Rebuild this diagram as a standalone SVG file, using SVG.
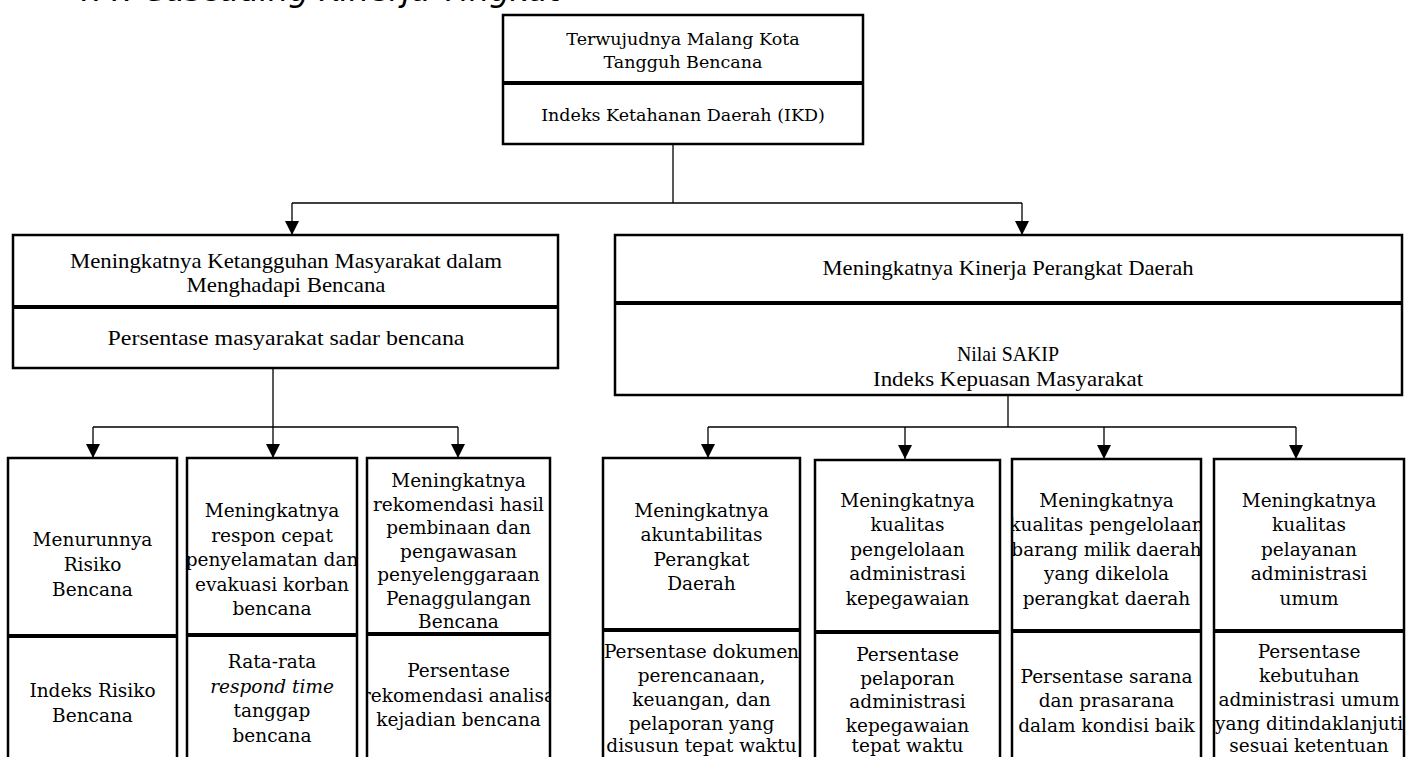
<svg xmlns="http://www.w3.org/2000/svg" width="1417" height="757" viewBox="0 0 1417 757">
<style>
.box{fill:#fff;stroke:#000;stroke-width:2.5}
.dv{stroke:#000;stroke-width:4}
.t{font-family:"DejaVu Serif","Liberation Serif",serif;font-size:17.5px;text-anchor:middle;fill:#000}
.b{font-family:"DejaVu Serif","Liberation Serif",serif;font-size:18.5px;text-anchor:middle;fill:#000}
.m{font-family:"Liberation Serif",serif;font-size:22px;text-anchor:middle;fill:#000}
.c{fill:none;stroke:#000;stroke-width:1.3}
.a{fill:none;stroke:#000;stroke-width:1.3;marker-end:url(#ah)}
.ttl{font-family:"DejaVu Sans",sans-serif;font-style:italic;font-size:32px;fill:#000}
</style>
<defs>
<marker id="ah" markerUnits="userSpaceOnUse" markerWidth="14" markerHeight="14" refX="14" refY="7" orient="auto" viewBox="0 0 14 14">
<path d="M0,0 L14,7 L0,14 z" fill="#000"/>
</marker>
<clipPath id="cA"><rect x="9" y="459" width="167" height="300"/></clipPath>
<clipPath id="cB"><rect x="188" y="459" width="168" height="300"/></clipPath>
<clipPath id="cC"><rect x="368" y="459" width="181" height="300"/></clipPath>
<clipPath id="cD"><rect x="604" y="459" width="195" height="300"/></clipPath>
<clipPath id="cE"><rect x="816" y="461" width="183" height="300"/></clipPath>
<clipPath id="cF"><rect x="1013" y="460" width="187" height="300"/></clipPath>
<clipPath id="cG"><rect x="1215" y="460" width="188" height="300"/></clipPath>
</defs>
<rect width="1417" height="757" fill="#fff"/>
<text class="ttl" x="72" y="1">4.4.  Cascading Kinerja Tingkat</text>

<g id="connectors">
<path class="c" d="M673,144 V203 M292,203 H1022"/>
<path class="a" d="M292,203 V235"/>
<path class="a" d="M1022,203 V235"/>
<path class="c" d="M273,368 V427 M93,427 H458"/>
<path class="a" d="M93,427 V458"/>
<path class="a" d="M273,427 V458"/>
<path class="a" d="M458,427 V458"/>
<path class="c" d="M1008,395 V427 M708,427 H1296"/>
<path class="a" d="M708,427 V458"/>
<path class="a" d="M905,427 V459"/>
<path class="a" d="M1104,427 V459"/>
<path class="a" d="M1296,427 V459"/>
</g>

<g id="top">
<rect class="box" x="503" y="15" width="360" height="129"/>
<line class="dv" x1="503" y1="83" x2="863" y2="83"/>
<text class="t" x="683" y="45">Terwujudnya Malang Kota</text>
<text class="t" x="683" y="68">Tangguh Bencana</text>
<text class="t" x="683" y="121">Indeks Ketahanan Daerah (IKD)</text>
</g>

<g id="mid-left">
<rect class="box" x="13" y="235" width="545" height="133"/>
<line class="dv" x1="13" y1="307" x2="558" y2="307"/>
<text class="m" x="286" y="268" textLength="432" lengthAdjust="spacingAndGlyphs">Meningkatnya Ketangguhan Masyarakat dalam</text>
<text class="m" x="286" y="292" textLength="199" lengthAdjust="spacingAndGlyphs">Menghadapi Bencana</text>
<text class="m" x="286" y="345" textLength="357" lengthAdjust="spacingAndGlyphs">Persentase masyarakat sadar bencana</text>
</g>

<g id="mid-right">
<rect class="box" x="615" y="235" width="787" height="160"/>
<line class="dv" x1="615" y1="303" x2="1402" y2="303"/>
<text class="m" x="1008" y="275" textLength="371" lengthAdjust="spacingAndGlyphs">Meningkatnya Kinerja Perangkat Daerah</text>
<text class="m" x="1008" y="361" textLength="102" lengthAdjust="spacingAndGlyphs">Nilai SAKIP</text>
<text class="m" x="1008" y="386" textLength="270" lengthAdjust="spacingAndGlyphs">Indeks Kepuasan Masyarakat</text>
</g>

<g id="box-a">
<rect class="box" x="8" y="458" width="169" height="320"/>
<g clip-path="url(#cA)">
<text class="b" x="92.5" y="546">Menurunnya</text>
<text class="b" x="92.5" y="571">Risiko</text>
<text class="b" x="92.5" y="596">Bencana</text>
<text class="b" x="92.5" y="697">Indeks Risiko</text>
<text class="b" x="92.5" y="722">Bencana</text>
</g>
<line class="dv" x1="8" y1="636" x2="177" y2="636"/>
</g>

<g id="box-b">
<rect class="box" x="187" y="458" width="170" height="320"/>
<g clip-path="url(#cB)">
<text class="b" x="272" y="517">Meningkatnya</text>
<text class="b" x="272" y="541.5">respon cepat</text>
<text class="b" x="272" y="566">penyelamatan dan</text>
<text class="b" x="272" y="590.5">evakuasi korban</text>
<text class="b" x="272" y="615">bencana</text>
<text class="b" x="272" y="668">Rata-rata</text>
<text class="b" x="272" y="692.5" font-style="italic">respond time</text>
<text class="b" x="272" y="717">tanggap</text>
<text class="b" x="272" y="741.5">bencana</text>
</g>
<line class="dv" x1="187" y1="635" x2="357" y2="635"/>
</g>

<g id="box-c">
<rect class="box" x="367" y="458" width="183" height="320"/>
<g clip-path="url(#cC)">
<text class="b" x="458.5" y="487">Meningkatnya</text>
<text class="b" x="458.5" y="510.5">rekomendasi hasil</text>
<text class="b" x="458.5" y="534">pembinaan dan</text>
<text class="b" x="458.5" y="557.5">pengawasan</text>
<text class="b" x="458.5" y="581">penyelenggaraan</text>
<text class="b" x="458.5" y="604.5">Penaggulangan</text>
<text class="b" x="458.5" y="628">Bencana</text>
<text class="b" x="458.5" y="677">Persentase</text>
<text class="b" x="458.5" y="701.5">rekomendasi analisa</text>
<text class="b" x="458.5" y="726">kejadian bencana</text>
</g>
<line class="dv" x1="367" y1="634" x2="550" y2="634"/>
</g>

<g id="box-d">
<rect class="box" x="603" y="458" width="197" height="320"/>
<g clip-path="url(#cD)">
<text class="b" x="701.5" y="516.5">Meningkatnya</text>
<text class="b" x="701.5" y="541">akuntabilitas</text>
<text class="b" x="701.5" y="565.5">Perangkat</text>
<text class="b" x="701.5" y="590">Daerah</text>
<text class="b" x="701.5" y="658">Persentase dokumen</text>
<text class="b" x="701.5" y="682">perencanaan,</text>
<text class="b" x="701.5" y="706">keuangan, dan</text>
<text class="b" x="701.5" y="730">pelaporan yang</text>
<text class="b" x="701.5" y="752">disusun tepat waktu</text>
</g>
<line class="dv" x1="603" y1="630" x2="800" y2="630"/>
</g>

<g id="box-e">
<rect class="box" x="815" y="460" width="185" height="320"/>
<g clip-path="url(#cE)">
<text class="b" x="907.5" y="506.5">Meningkatnya</text>
<text class="b" x="907.5" y="531">kualitas</text>
<text class="b" x="907.5" y="555.5">pengelolaan</text>
<text class="b" x="907.5" y="580">administrasi</text>
<text class="b" x="907.5" y="604.5">kepegawaian</text>
<text class="b" x="907.5" y="661">Persentase</text>
<text class="b" x="907.5" y="684.5">pelaporan</text>
<text class="b" x="907.5" y="708">administrasi</text>
<text class="b" x="907.5" y="731.5">kepegawaian</text>
<text class="b" x="907.5" y="752">tepat waktu</text>
</g>
<line class="dv" x1="815" y1="632" x2="1000" y2="632"/>
</g>

<g id="box-f">
<rect class="box" x="1012" y="459" width="189" height="320"/>
<g clip-path="url(#cF)">
<text class="b" x="1106.5" y="506.5">Meningkatnya</text>
<text class="b" x="1106.5" y="531">kualitas pengelolaan</text>
<text class="b" x="1106.5" y="555.5">barang milik daerah</text>
<text class="b" x="1106.5" y="580">yang dikelola</text>
<text class="b" x="1106.5" y="604.5">perangkat daerah</text>
<text class="b" x="1106.5" y="682.5">Persentase sarana</text>
<text class="b" x="1106.5" y="707">dan  prasarana</text>
<text class="b" x="1106.5" y="731.5">dalam kondisi baik</text>
</g>
<line class="dv" x1="1012" y1="631" x2="1201" y2="631"/>
</g>

<g id="box-g">
<rect class="box" x="1214" y="459" width="190" height="320"/>
<g clip-path="url(#cG)">
<text class="b" x="1309" y="506.5">Meningkatnya</text>
<text class="b" x="1309" y="531">kualitas</text>
<text class="b" x="1309" y="555.5">pelayanan</text>
<text class="b" x="1309" y="580">administrasi</text>
<text class="b" x="1309" y="604.5">umum</text>
<text class="b" x="1309" y="658">Persentase</text>
<text class="b" x="1309" y="682">kebutuhan</text>
<text class="b" x="1309" y="706">administrasi umum</text>
<text class="b" x="1309" y="730">yang ditindaklanjuti</text>
<text class="b" x="1309" y="752">sesuai ketentuan</text>
</g>
<line class="dv" x1="1214" y1="631" x2="1404" y2="631"/>
</g>
</svg>
